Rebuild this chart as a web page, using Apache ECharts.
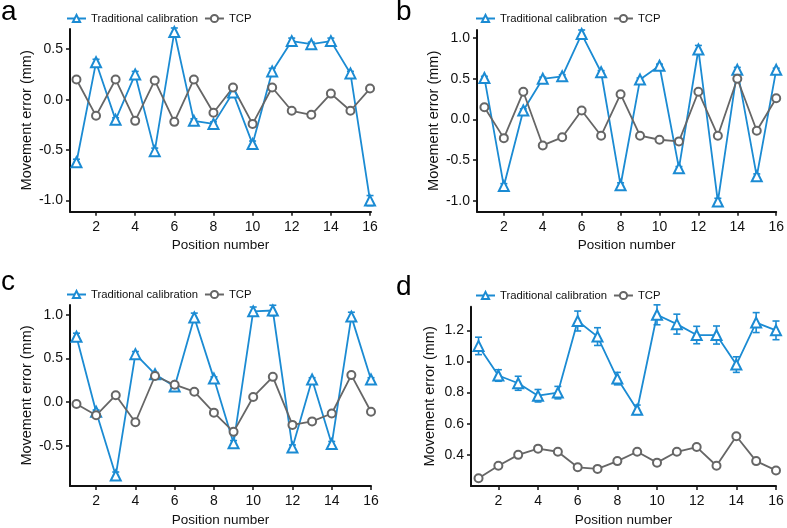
<!DOCTYPE html>
<html><head><meta charset="utf-8">
<script src="https://cdn.jsdelivr.net/npm/echarts@6/dist/echarts.min.js"></script>
<style>html,body{margin:0;padding:0;background:#fff}#c{width:787px;height:528px}</style>
</head><body><div id="c"></div>
<script>
const positions = [1,2,3,4,5,6,7,8,9,10,11,12,13,14,15,16];
const xTickValues = [2,4,6,8,10,12,14,16];
const seriesNames = ['Traditional calibration', 'TCP'];
const panelLetters = ['a','b','c','d'];

const aTrad    = [-0.62,0.37,-0.20,0.25,-0.51,0.67,-0.21,-0.24,0.07,-0.44,0.28,0.58,0.55,0.58,0.26,-1.00];
const aTradErr = [0.03,0.03,0.02,0.03,0.03,0.04,0.02,0.02,0.02,0.03,0.03,0.03,0.02,0.03,0.02,0.05];
const aTCP     = [0.20,-0.16,0.20,-0.21,0.19,-0.22,0.20,-0.13,0.12,-0.24,0.12,-0.11,-0.15,0.06,-0.11,0.11];
const aTCPErr  = [0.01,0.01,0.01,0.01,0.01,0.01,0.01,0.01,0.01,0.01,0.01,0.01,0.01,0.01,0.01,0.01];

const bTrad    = [0.51,-0.82,0.11,0.50,0.53,1.05,0.58,-0.81,0.49,0.66,-0.60,0.86,-1.01,0.61,-0.70,0.61];
const bTradErr = [0.02,0.03,0.02,0.02,0.02,0.05,0.02,0.03,0.02,0.02,0.02,0.05,0.04,0.03,0.03,0.02];
const bTCP     = [0.15,-0.23,0.34,-0.32,-0.22,0.11,-0.20,0.31,-0.20,-0.25,-0.27,0.34,-0.20,0.50,-0.14,0.26];
const bTCPErr  = [0.01,0.01,0.01,0.01,0.01,0.01,0.01,0.01,0.01,0.01,0.01,0.01,0.01,0.01,0.01,0.01];

const cTrad    = [0.75,-0.11,-0.84,0.55,0.32,0.18,0.97,0.27,-0.47,1.04,1.05,-0.52,0.26,-0.48,0.98,0.26];
const cTradErr = [0.04,0.02,0.04,0.03,0.02,0.02,0.05,0.02,0.03,0.05,0.06,0.03,0.02,0.03,0.05,0.02];
const cTCP     = [-0.02,-0.15,0.08,-0.23,0.30,0.20,0.12,-0.12,-0.34,0.06,0.29,-0.26,-0.22,-0.13,0.31,-0.11];
const cTCPErr  = [0.01,0.01,0.01,0.01,0.01,0.01,0.01,0.01,0.01,0.01,0.01,0.01,0.01,0.01,0.01,0.01];

const dTrad    = [1.10,0.91,0.86,0.78,0.80,1.26,1.16,0.89,0.69,1.30,1.24,1.17,1.17,0.98,1.25,1.20];
const dTradErr = [0.056,0.037,0.045,0.04,0.04,0.064,0.057,0.04,0.03,0.064,0.064,0.056,0.058,0.05,0.064,0.06];
const dTCP     = [0.25,0.33,0.40,0.44,0.42,0.32,0.31,0.36,0.42,0.35,0.42,0.45,0.33,0.52,0.36,0.30];
const dTCPErr  = [0.012,0.012,0.012,0.012,0.012,0.012,0.012,0.012,0.012,0.012,0.012,0.012,0.012,0.012,0.012,0.012];

const yTicksA = [-1.0,-0.5,0.0,0.5];
const yTicksB = [-1.0,-0.5,0.0,0.5,1.0];
const yTicksC = [-0.5,0.0,0.5,1.0];
const yTicksD = [0.4,0.6,0.8,1.0,1.2];

const panels = [
  {trad:aTrad, tradErr:aTradErr, tcp:aTCP, tcpErr:aTCPErr, yTicks:yTicksA, ymin:-1.11, ymax:0.70, xmin:0.67, xmax:16.05,
   grid:{left:70, top:29, width:301, height:182.7}, legend:{left:66, top:13}, letter:{x:1, y:12}, yName:'Movement error (mm)'},
  {trad:bTrad, tradErr:bTradErr, tcp:bTCP, tcpErr:bTCPErr, yTicks:yTicksB, ymin:-1.135, ymax:1.10, xmin:0.62, xmax:16,
   grid:{left:477, top:30, width:301, height:181.7}, legend:{left:475, top:13}, letter:{x:396, y:12}, yName:'Movement error (mm)'},
  {trad:cTrad, tradErr:cTradErr, tcp:cTCP, tcpErr:cTCPErr, yTicks:yTicksC, ymin:-0.96, ymax:1.113, xmin:0.67, xmax:16,
   grid:{left:70, top:305, width:301, height:183.3}, legend:{left:66, top:289}, letter:{x:1, y:282}, yName:'Movement error (mm)'},
  {trad:dTrad, tradErr:dTradErr, tcp:dTCP, tcpErr:dTCPErr, yTicks:yTicksD, ymin:0.2, ymax:1.352, xmin:0.62, xmax:16,
   grid:{left:471, top:306.7, width:305, height:181.6}, legend:{left:475, top:290}, letter:{x:396, y:287}, yName:'Movement error (mm)'}
];

const BLUE = '#1b8bd3';
const GRAY = '#666666';
const FONT = 'Liberation Sans';

function errRender(params, api) {
  const x = api.value(0), y = api.value(1), e = api.value(2);
  const top = api.coord([x, y + e]);
  const bot = api.coord([x, y - e]);
  const w = 3.5;
  const color = api.visual('color');
  const st = {stroke: color, lineWidth: 1.6};
  return {type:'group', children:[
    {type:'line', shape:{x1:top[0], y1:top[1], x2:bot[0], y2:bot[1]}, style:st},
    {type:'line', shape:{x1:top[0]-w, y1:top[1], x2:top[0]+w, y2:top[1]}, style:st},
    {type:'line', shape:{x1:bot[0]-w, y1:bot[1], x2:bot[0]+w, y2:bot[1]}, style:st}
  ]};
}

const grids = [], xAxes = [], yAxes = [], series = [], legends = [], graphics = [];
panels.forEach((p, i) => {
  grids.push(Object.assign({containLabel:false}, p.grid));
  xAxes.push({
    type:'value', gridIndex:i, min:p.xmin, max:p.xmax,
    name:'Position number', nameLocation:'middle', nameGap:27,
    nameTextStyle:{fontFamily:FONT, fontSize:13.5, color:'#111'},
    axisLine:{show:true, onZero:false, lineStyle:{color:'#111', width:2}},
    axisTick:{show:true, length:4, lineStyle:{color:'#111', width:1.5}, customValues:xTickValues},
    axisLabel:{fontFamily:FONT, fontSize:14, color:'#111', margin:8, customValues:xTickValues},
    splitLine:{show:false}
  });
  yAxes.push({
    type:'value', gridIndex:i, min:p.ymin, max:p.ymax,
    name:p.yName, nameLocation:'middle', nameGap:34,
    nameTextStyle:{fontFamily:FONT, fontSize:14.5, color:'#111'},
    axisLine:{show:true, onZero:false, lineStyle:{color:'#111', width:2}},
    axisTick:{show:true, length:4, lineStyle:{color:'#111', width:1.5}, customValues:p.yTicks},
    axisLabel:{fontFamily:FONT, fontSize:14, color:'#111', margin:7, customValues:p.yTicks,
      formatter:v => Number(v).toFixed(1)},
    splitLine:{show:false}
  });
  series.push({
    type:'custom', name:'errTrad'+i, xAxisIndex:i, yAxisIndex:i, z:3,
    itemStyle:{color:BLUE}, renderItem:errRender, encode:{x:0, y:1},
    data: positions.map((x, k) => [x, p.trad[k], p.tradErr[k]])
  });
  series.push({
    type:'custom', name:'errTCP'+i, xAxisIndex:i, yAxisIndex:i, z:3,
    itemStyle:{color:GRAY}, renderItem:errRender, encode:{x:0, y:1},
    data: positions.map((x, k) => [x, p.tcp[k], p.tcpErr[k]])
  });
  series.push({
    type:'line', name:seriesNames[0], xAxisIndex:i, yAxisIndex:i, z:4,
    data: positions.map((x, k) => [x, p.trad[k]]),
    symbol:'emptyTriangle', symbolSize:10, showAllSymbol:true,
    lineStyle:{color:BLUE, width:1.8}, itemStyle:{color:BLUE, borderColor:BLUE, borderWidth:1.8},
    emphasis:{disabled:true}, animation:false
  });
  series.push({
    type:'line', name:seriesNames[1], xAxisIndex:i, yAxisIndex:i, z:4,
    data: positions.map((x, k) => [x, p.tcp[k]]),
    symbol:'emptyCircle', symbolSize:8, showAllSymbol:true,
    lineStyle:{color:GRAY, width:1.8}, itemStyle:{color:GRAY, borderColor:GRAY, borderWidth:1.8},
    emphasis:{disabled:true}, animation:false
  });
  legends.push({
    data:seriesNames, left:p.legend.left, top:p.legend.top, orient:'horizontal',
    itemWidth:19, itemHeight:9, itemGap:6, padding:0, selectedMode:false,
    textStyle:{fontFamily:FONT, fontSize:11.3, color:'#111'}
  });
  graphics.push({
    type:'text', left:null, x:p.letter.x, y:p.letter.y,
    style:{text:panelLetters[i], font:'28px "Liberation Sans"', fill:'#000', verticalAlign:'middle', align:'left'}
  });
});

const chart = echarts.init(document.getElementById('c'), null, {renderer:'canvas'});
chart.setOption({
  backgroundColor:'#fff',
  animation:false,
  grid:grids, xAxis:xAxes, yAxis:yAxes, series:series, legend:legends, graphic:graphics
});
</script></body></html>
